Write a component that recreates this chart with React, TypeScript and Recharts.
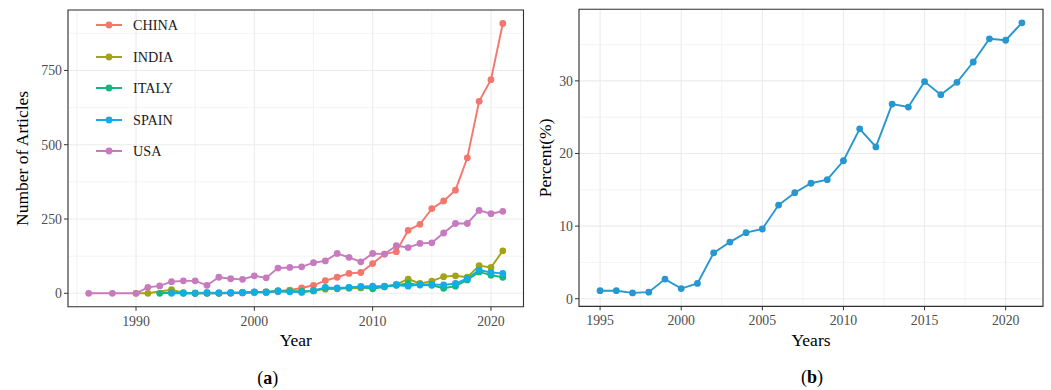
import React from 'react';
import { LineChart, Line, XAxis, YAxis, CartesianGrid, Legend, ReferenceArea, Label } from 'recharts';

// ---------- Panel (a) data ----------
const yearsA = [1986, 1988, 1990, 1991, 1992, 1993, 1994, 1995, 1996, 1997, 1998, 1999, 2000,
  2001, 2002, 2003, 2004, 2005, 2006, 2007, 2008, 2009, 2010,
  2011, 2012, 2013, 2014, 2015, 2016, 2017, 2018, 2019, 2020, 2021];
const countries = ['CHINA', 'INDIA', 'ITALY', 'SPAIN', 'USA'];
const chinaVals = [null, null, null, null, null, null, null, 0, 0, 1, 0, 1, 2,
  3, 5, 11, 18, 27, 43, 54, 67, 70, 100,
  132, 140, 212, 232, 285, 311, 347, 456, 646, 719, 908];
const indiaVals = [null, null, 0, 0, null, 12, 2, 1, 2, 1, 2, 3, 4,
  5, 9, 10, 3, 10, 14, 15, 17, 18, 20,
  22, 30, 48, 33, 41, 56, 59, 54, 93, 87, 143];
const italyVals = [null, null, null, null, 0, 2, 0, 0, 0, 0, 1, 2, 4,
  5, 8, 6, 7, 8, 18, 16, 19, 21, 15,
  22, 27, 33, 28, 27, 17, 24, 45, 72, 61, 54];
const spainVals = [null, null, null, null, null, 0, 1, 0, 2, 1, 2, 3, 5,
  3, 7, 5, 4, 9, 20, 18, 20, 23, 24,
  24, 28, 24, 30, 30, 28, 33, 50, 78, 70, 67];
const usaVals = [0, 0, 0, 20, 25, 39, 42, 42, 27, 54, 49, 47, 59,
  52, 85, 87, 89, 103, 109, 134, 121, 106, 134,
  132, 160, 154, 168, 170, 203, 235, 235, 279, 268, 276];
const countryColors = ['#F4766C', '#A3A314', '#14B87E', '#12ACE6', '#C77BBE'];
const xTicksA = [1990, 2000, 2010, 2020];
const xMinorA = [1985, 1995, 2005, 2015];
const yTicksA = [0, 250, 500, 750];
const yMinorA = [125, 375, 625, 875];

// ---------- Panel (b) data ----------
const yearsB = [1995, 1996, 1997, 1998, 1999, 2000, 2001, 2002, 2003, 2004, 2005, 2006, 2007,
  2008, 2009, 2010, 2011, 2012, 2013, 2014, 2015, 2016, 2017, 2018, 2019, 2020, 2021];
const percentVals = [1.1, 1.1, 0.8, 0.9, 2.7, 1.4, 2.1, 6.3, 7.8, 9.1, 9.6, 12.9, 14.6,
  15.9, 16.4, 19.0, 23.4, 20.9, 26.8, 26.4, 29.9, 28.1, 29.8, 32.6, 35.8, 35.6, 38.0];
const percentColor = '#2797D0';
const xTicksB = [1995, 2000, 2005, 2010, 2015, 2020];
const xMinorB = [1997.5, 2002.5, 2007.5, 2012.5, 2017.5];
const yTicksB = [0, 10, 20, 30];
const yMinorB = [5, 15, 25, 35];

const seriesA = [chinaVals, indiaVals, italyVals, spainVals, usaVals];
const dataA = yearsA.map((y, i) => {
  const row: any = { year: y };
  countries.forEach((c, k) => { row[c] = seriesA[k][i]; });
  return row;
});
const dataB = yearsB.map((y, i) => ({ year: y, pct: percentVals[i] }));

// ggplot expand 5%
const padDomain = (vals: number[]) => {
  const mn = Math.min(...vals), mx = Math.max(...vals);
  const p = (mx - mn) * 0.05;
  return [mn - p, mx + p];
};
const xDomA = padDomain(yearsA);
const yDomA = padDomain(seriesA.flat().filter((v) => v !== null) as number[]);
const xDomB = padDomain(yearsB);
const yDomB = padDomain(percentVals);

const FONT = '"Liberation Serif", "Times New Roman", serif';
const GRID = '#ebebeb';

const XTick = (p: any) => (
  <text x={p.x} y={p.y} dy="0.71em" textAnchor="middle" fontSize={13.8} fill="#4d4d4d" fontFamily={FONT}>
    {p.payload.value}
  </text>
);
const YTick = (p: any) => (
  <text x={p.x} y={p.y} dy="0.355em" textAnchor="end" fontSize={13.8} fill="#4d4d4d" fontFamily={FONT}>
    {p.payload.value}
  </text>
);

// minor grid positions, mapped through the axis scale when available, else via the plot offset
const minorGen = (vals: number[], axis: 'x' | 'y', dom: number[]) => (props: any) => {
  const ax = axis === 'x' ? props.xAxis : props.yAxis;
  if (ax && typeof ax.scale === 'function') return vals.map((v) => ax.scale(v));
  const off = props.offset || {};
  if (axis === 'x') {
    return vals.map((v) => off.left + ((v - dom[0]) / (dom[1] - dom[0])) * off.width);
  }
  return vals.map((v) => off.top + ((dom[1] - v) / (dom[1] - dom[0])) * off.height);
};

const xTitle = (title: string, cap: string, capDx: number, titleDy: number) => (props: any) => {
  const vb = props.viewBox;
  const cx = vb.x + vb.width / 2;
  return (
    <g>
      <text x={cx} y={vb.y + titleDy} textAnchor="middle" fontSize={17.5} fill="#000" fontFamily={FONT}>{title}</text>
      <text x={cx + capDx} y={vb.y + 77} textAnchor="middle" fontSize={18} fill="#000" fontFamily={FONT}>
        (<tspan fontWeight="bold">{cap}</tspan>)
      </text>
    </g>
  );
};

const yTitle = (title: string, dx: number) => (props: any) => {
  const vb = props.viewBox;
  const x = vb.x + dx;
  const y = vb.y + vb.height / 2;
  return (
    <text x={x} y={y} transform={`rotate(-90 ${x} ${y})`} textAnchor="middle" dominantBaseline="central"
      fontSize={17.5} fill="#000" fontFamily={FONT}>{title}</text>
  );
};

const LegendA = () => (
  <div style={{ fontFamily: FONT }}>
    {countries.map((c, i) => (
      <div key={c} style={{ display: 'flex', alignItems: 'center', height: 31.5 }}>
        <svg width={26} height={10} style={{ display: 'block' }}>
          <line x1={0} y1={5} x2={26} y2={5} stroke={countryColors[i]} strokeWidth={2} />
          <circle cx={13} cy={5} r={3.4} fill={countryColors[i]} />
        </svg>
        <span style={{ marginLeft: 11, fontSize: 14.2, color: '#1a1a1a', lineHeight: '16px' }}>{c}</span>
      </div>
    ))}
  </div>
);

export default function App() {
  return (
    <div style={{ position: 'absolute', left: 0, top: 0, width: 1051, height: 390, background: '#fff', fontFamily: FONT }}>
      <div style={{ position: 'absolute', left: 0, top: 0 }}>
        <LineChart width={530} height={390} data={dataA} margin={{ top: 10, right: 6.5, bottom: 8.2, left: 8 }}
          style={{ fontFamily: FONT }}>
          <CartesianGrid stroke={GRID} strokeWidth={0.6}
            horizontalCoordinatesGenerator={minorGen(yMinorA, 'y', yDomA)}
            verticalCoordinatesGenerator={minorGen(xMinorA, 'x', xDomA)} />
          <CartesianGrid stroke={GRID} strokeWidth={1.1} />
          <XAxis dataKey="year" type="number" domain={xDomA} ticks={xTicksA} allowDataOverflow
            axisLine={false} tickSize={4} tickMargin={5} tick={XTick}
            tickLine={{ stroke: '#333', strokeWidth: 1 }} height={75}>
            <Label content={xTitle('Year', 'a', -28, 39)} />
          </XAxis>
          <YAxis type="number" domain={yDomA} ticks={yTicksA} allowDataOverflow
            axisLine={false} tickSize={4} tickMargin={2} tick={YTick}
            tickLine={{ stroke: '#333', strokeWidth: 1 }} width={60}>
            <Label content={yTitle('Number of Articles', 14)} />
          </YAxis>
          {countries.map((c, i) => (
            <Line key={c} dataKey={c} stroke={countryColors[i]} strokeWidth={1.9} connectNulls
              dot={{ r: 3.4, fill: countryColors[i], stroke: countryColors[i], strokeWidth: 0 }}
              activeDot={false} isAnimationActive={false} />
          ))}
          <ReferenceArea x1={xDomA[0]} x2={xDomA[1]} y1={yDomA[0]} y2={yDomA[1]}
            fill="none" fillOpacity={0} stroke="#333" strokeWidth={1.1} ifOverflow="visible" />
          <Legend layout="vertical" align="center" verticalAlign="middle" content={<LegendA />}
            wrapperStyle={{ left: 96, top: 9.25, width: 120, height: 160 }} />
        </LineChart>
      </div>
      <div style={{ position: 'absolute', left: 530, top: 0 }}>
        <LineChart width={521} height={390} data={dataB} margin={{ top: 9.3, right: 8, bottom: 8.6, left: 4 }}
          style={{ fontFamily: FONT }}>
          <CartesianGrid stroke={GRID} strokeWidth={0.6}
            horizontalCoordinatesGenerator={minorGen(yMinorB, 'y', yDomB)}
            verticalCoordinatesGenerator={minorGen(xMinorB, 'x', xDomB)} />
          <CartesianGrid stroke={GRID} strokeWidth={1.1} />
          <XAxis dataKey="year" type="number" domain={xDomB} ticks={xTicksB} allowDataOverflow
            axisLine={false} tickSize={4} tickMargin={5} tick={XTick}
            tickLine={{ stroke: '#333', strokeWidth: 1 }} height={75}>
            <Label content={xTitle('Years', 'b', 1, 40)} />
          </XAxis>
          <YAxis type="number" domain={yDomB} ticks={yTicksB} allowDataOverflow
            axisLine={false} tickSize={4} tickMargin={2} tick={YTick}
            tickLine={{ stroke: '#333', strokeWidth: 1 }} width={45}>
            <Label content={yTitle('Percent(%)', 11)} />
          </YAxis>
          <Line dataKey="pct" stroke={percentColor} strokeWidth={1.9}
            dot={{ r: 3.4, fill: percentColor, stroke: percentColor, strokeWidth: 0 }}
            activeDot={false} isAnimationActive={false} />
          <ReferenceArea x1={xDomB[0]} x2={xDomB[1]} y1={yDomB[0]} y2={yDomB[1]}
            fill="none" fillOpacity={0} stroke="#333" strokeWidth={1.1} ifOverflow="visible" />
        </LineChart>
      </div>
    </div>
  );
}
